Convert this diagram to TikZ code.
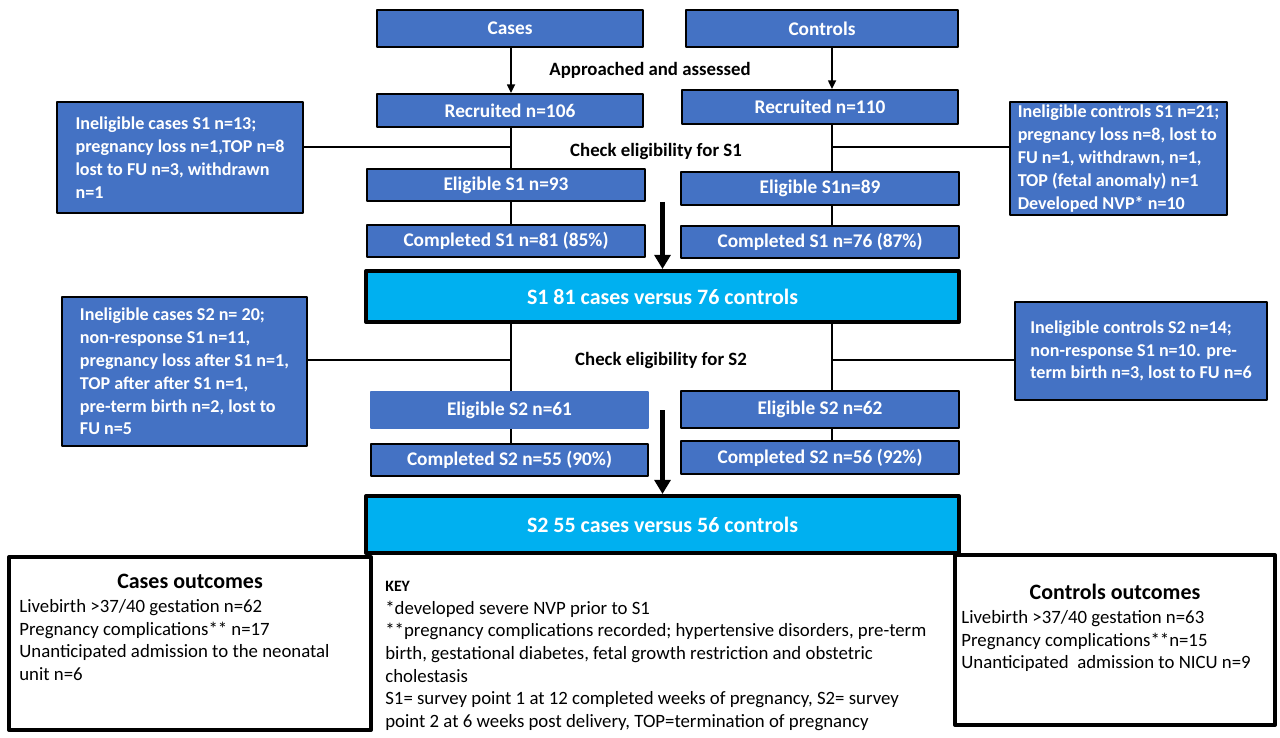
\documentclass[tikz,border=0pt]{standalone}
\usepackage{fontspec}
\setmainfont{Carlito}
\usetikzlibrary{arrows.meta,positioning}
\definecolor{boxblue}{HTML}{4472C4}
\definecolor{sumcyan}{HTML}{00B0F0}
\tikzset{flowbox/.style={
            draw,
            fill=boxblue,
            line width=1.1pt,
            text=white,
            inner sep=0pt,
            font=\bfseries\fontsize{11}{13}\selectfont
        },
        sidebox/.style={
            draw,
            fill=boxblue,
            line width=1.1pt,
            text=white,
            align=left,
            inner sep=0pt,
            font=\bfseries\fontsize{10.3}{13}\selectfont
        },
        sumbox/.style={
            draw,
            fill=sumcyan,
            line width=2.3pt,
            text=white,
            inner sep=0pt,
            minimum width=11.86cm,
            font=\bfseries\fontsize{12.5}{15}\selectfont
        },
        outbox/.style={
            draw,
            fill=white,
            line width=2.3pt,
            inner sep=0pt
        },
        steptext/.style={
            inner sep=0pt,
            font=\bfseries\fontsize{10.7}{13}\selectfont
        },
        headtext/.style={
            inner sep=0pt,
            font=\bfseries\fontsize{12.5}{15}\selectfont
        },
        bodytext/.style={
            align=left,
            inner sep=0pt,
            anchor=north west,
            font=\fontsize{10.7}{12.9}\selectfont
        },
        link/.style={
            line width=1.1pt
        },
        thinarrow/.style={
            line width=1.1pt,
            -{Triangle[length=5pt,width=4.5pt]}
        },
        bigarrow/.style={
            line width=2.6pt,
            -{Triangle[length=8pt,width=9pt]}
        }
    }

\begin{document}
\begin{tikzpicture}[x=0.02cm,y=-0.02cm,line join=round]
\useasboundingbox (0,0) rectangle (1280,737);
\coordinate (cspine) at (511,0);
\coordinate (kspine) at (832,0);
\coordinate (cut1) at (0,147);
\coordinate (cut2) at (0,360);

% top of the flow
\node[flowbox,minimum width=5.32cm,minimum height=0.74cm] (cases) at (510,28.5) {Cases};
\node[flowbox,minimum width=5.44cm,minimum height=0.74cm] (controls) at (822,28.5) {Controls};
\node[steptext] (approach) at (650,70) {Approached and assessed};
\node[flowbox,minimum width=5.32cm,minimum height=0.66cm] (rec1) at (510,110.5) {Recruited n=106};
\node[flowbox,minimum width=5.52cm,minimum height=0.68cm] (rec2) at (820,107) {Recruited n=110};

% survey point 1
\node[sidebox,minimum width=4.92cm,minimum height=2.22cm] (inel1) at (180,157.5) {Ineligible cases S1 n=13;\\pregnancy loss n=1,TOP n=8\\lost to FU n=3, withdrawn\\n=1};
\node[sidebox,minimum width=4.34cm,minimum height=2.26cm] (inelc1) at (1118.5,158.5) {Ineligible controls S1 n=21;\\pregnancy loss n=8, lost to\\FU n=1, withdrawn, n=1,\\TOP (fetal anomaly) n=1\\Developed NVP* n=10};
\node[steptext] (check1) at (656,151) {Check eligibility for S1};
\node[flowbox,minimum width=5.56cm,minimum height=0.64cm] (elig1) at (506,185) {Eligible S1 n=93};
\node[flowbox,minimum width=5.56cm,minimum height=0.66cm] (elig2) at (820,188.5) {Eligible S1n=89};
\node[flowbox,minimum width=5.56cm,minimum height=0.64cm] (comp1) at (506,241) {Completed S1 n=81 (85\%)};
\node[flowbox,minimum width=5.56cm,minimum height=0.64cm] (comp2) at (820,242) {Completed S1 n=76 (87\%)};
\node[sumbox,minimum height=1.02cm] (s1) at (662.5,296.5) {S1 81 cases versus 76 controls};

% survey point 2
\node[sidebox,minimum width=4.9cm,minimum height=2.98cm] (inel2) at (184.5,371.5) {Ineligible cases S2 n= 20;\\non-response S1 n=11,\\pregnancy loss after S1 n=1,\\TOP after after S1 n=1,\\pre-term birth n=2, lost to\\FU n=5};
\node[sidebox,minimum width=5.04cm,minimum height=1.96cm] (inelc2) at (1141,351) {Ineligible controls S2 n=14;\\non-response S1 n=10. pre-\\term birth n=3, lost to FU n=6};
\node[steptext] (check2) at (661,360) {Check eligibility for S2};
\node[flowbox,draw=boxblue,minimum width=5.54cm,minimum height=0.72cm] (elig3) at (509.5,410) {Eligible S2 n=61};
\node[flowbox,minimum width=5.56cm,minimum height=0.74cm] (elig4) at (820,409.5) {Eligible S2 n=62};
\node[flowbox,minimum width=5.54cm,minimum height=0.64cm] (comp3) at (509.5,460) {Completed S2 n=55 (90\%)};
\node[flowbox,minimum width=5.56cm,minimum height=0.66cm] (comp4) at (820,457.5) {Completed S2 n=56 (92\%)};
\node[sumbox,minimum height=1.14cm] (s2) at (662.5,524.5) {S2 55 cases versus 56 controls};

% outcomes and key
\node[outbox,minimum width=7.24cm,minimum height=3.46cm] (outc1) at (190,643.5) {};
\node[headtext] (outc1head) at ([shift={(0,26)}]outc1.north) {Cases outcomes};
\node[bodytext] (outc1body) at ([shift={(12,44)}]outc1.north west) {Livebirth >37/40 gestation n=62\\Pregnancy complications** n=17\\Unanticipated admission to the neonatal\\unit n=6};
\node[outbox,minimum width=6.4cm,minimum height=3.4cm] (outc2) at (1115,640) {};
\node[headtext] (outc2head) at ([shift={(0,39)}]outc2.north) {Controls outcomes};
\node[bodytext] (outc2body) at ([shift={(8,57)}]outc2.north west) {Livebirth >37/40 gestation n=63\\Pregnancy complications**n=15\\Unanticipated\ \ admission to NICU n=9};
\node[bodytext] (key) at (385,581) {{\bfseries\fontsize{9}{12.9}\selectfont KEY}\\*developed severe NVP prior to S1\\**pregnancy complications recorded; hypertensive disorders, pre-term\\birth, gestational diabetes, fetal growth restriction and obstetric\\cholestasis\\S1= survey point 1 at 12 completed weeks of pregnancy, S2= survey\\point 2 at 6 weeks post delivery, TOP=termination of pregnancy};

% connectors
\draw[thinarrow] (cases.south -| cspine) -- (rec1.north -| cspine);
\draw[thinarrow] (controls.south -| kspine) -- (rec2.north -| kspine);
\draw[link] (rec1.south -| cspine) -- (elig1.north -| cspine);
\draw[link] (elig1.south -| cspine) -- (comp1.north -| cspine);
\draw[link] (rec2.south -| kspine) -- (elig2.north -| kspine);
\draw[link] (elig2.south -| kspine) -- (comp2.north -| kspine);
\draw[link] (inel1.east |- cut1) -- (cspine |- cut1);
\draw[link] (kspine |- cut1) -- (inelc1.west |- cut1);
\draw[bigarrow] (s1.north |- elig1.south) -- (s1.north);
\draw[link] (s1.south -| cspine) -- (elig3.north -| cspine);
\draw[link] (s1.south -| kspine) -- (elig4.north -| kspine);
\draw[link] (elig3.south -| cspine) -- (comp3.north -| cspine);
\draw[link] (elig4.south -| kspine) -- (comp4.north -| kspine);
\draw[link] (inel2.east |- cut2) -- (cspine |- cut2);
\draw[link] (kspine |- cut2) -- (inelc2.west |- cut2);
\draw[bigarrow] (s2.north |- elig3) -- (s2.north);
\end{tikzpicture}
\end{document}
